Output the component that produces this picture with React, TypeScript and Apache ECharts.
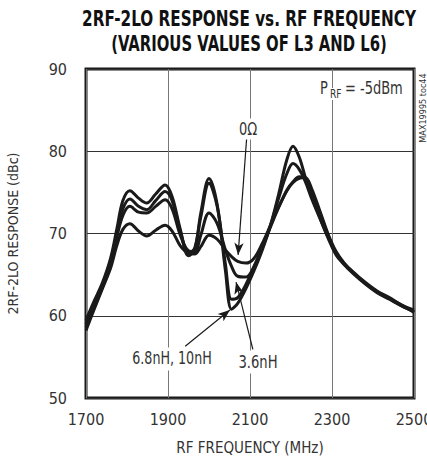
import React, { useEffect, useRef } from "react";
import * as echarts from "echarts";

const freqs = [1700, 1720, 1740, 1760, 1775, 1790, 1807, 1828, 1848, 1870, 1893, 1910, 1930, 1950, 1965, 1980, 2000, 2020, 2040, 2055, 2070, 2090, 2110, 2130, 2150, 2170, 2190, 2205, 2220, 2235, 2250, 2270, 2290, 2310, 2330, 2350, 2380, 2410, 2440, 2470, 2500];

// 0 ohm
const resp0 = [58.2, 60.8, 63.3, 65.8, 68.5, 70.5, 71.2, 70.3, 69.7, 70.4, 71.0, 70.3, 68.5, 67.6, 67.5, 68.4, 69.8, 69.3, 68.0, 67.2, 66.6, 66.4, 67.0, 68.8, 71.0, 73.2, 75.2, 76.2, 76.7, 76.8, 75.5, 72.8, 70.0, 67.8, 66.4, 65.4, 64.1, 63.0, 62.2, 61.3, 60.7];
// 3.6nH
const resp36 = [58.6, 61.0, 63.5, 66.3, 69.5, 72.2, 73.3, 72.6, 72.5, 73.3, 74.1, 73.0, 69.8, 67.9, 67.8, 69.8, 72.5, 71.2, 68.0, 66.0, 64.8, 64.7, 66.0, 68.3, 70.8, 73.2, 75.3, 76.3, 76.9, 76.7, 75.2, 72.6, 69.8, 67.6, 66.3, 65.3, 64.0, 62.9, 62.1, 61.2, 60.5];
// 6.8nH
const resp68 = [59.0, 61.5, 63.8, 66.7, 70.0, 73.0, 74.2, 73.3, 72.9, 74.0, 75.1, 74.0, 70.3, 67.6, 68.2, 72.0, 76.1, 73.3, 66.3, 62.0, 62.2, 63.8, 66.0, 68.3, 71.0, 74.3, 77.3, 78.5, 77.8, 76.3, 74.3, 71.9, 69.5, 67.4, 66.2, 65.2, 63.9, 62.8, 62.0, 61.2, 60.5];
// 10nH
const resp10 = [59.5, 61.8, 64.0, 67.0, 70.5, 74.0, 75.2, 74.3, 73.7, 74.8, 75.9, 74.5, 70.5, 67.3, 68.0, 72.5, 76.7, 73.5, 65.5, 60.8, 61.5, 63.3, 65.5, 68.0, 71.0, 74.8, 79.0, 80.6, 79.3, 76.8, 74.5, 72.0, 69.6, 67.5, 66.3, 65.3, 64.0, 62.9, 62.1, 61.3, 60.4];

const seriesNames = ["0Ω", "3.6nH", "6.8nH", "10nH"];
const seriesValues = [resp0, resp36, resp68, resp10];

const xTicks = [1700, 1900, 2100, 2300, 2500];
const yTicks = [50, 60, 70, 80, 90];

// annotation arrows in data coordinates: [fromX, fromY, toX, toY]
const arrows = [
  [2092, 81.7, 2071, 67.4],
  [2107, 55.9, 2066, 64.1],
  [1942, 56.3, 2051, 60.7],
];

const FONT = "'DejaVu Sans Condensed', 'Liberation Sans', Arial, sans-serif";
const INK = "#1a1a1a";
const TXT = "#333";

export default function App() {
  const ref = useRef<HTMLDivElement>(null);
  useEffect(() => {
    if (!ref.current) return;
    const chart = echarts.init(ref.current, undefined, { renderer: "svg" });
    const series: any[] = seriesNames.map((name, i) => ({
      name,
      type: "line",
      smooth: 0.35,
      showSymbol: false,
      data: freqs.map((f, j) => [f, seriesValues[i][j]]),
      lineStyle: { color: INK, width: 3 },
      z: 5,
    }));
    series[0].markLine = {
      silent: true,
      symbol: ["none", "arrow"],
      symbolSize: [7, 12],
      label: { show: false },
      lineStyle: { color: INK, width: 1.2, type: "solid" },
      data: arrows.map((a) => [{ coord: [a[0], a[1]] }, { coord: [a[2], a[3]] }]),
    };
    const ann = { fontFamily: FONT, fill: TXT, align: "center", verticalAlign: "middle", backgroundColor: "#fff", fontSize: 17 };
    chart.setOption({
      animation: false,
      backgroundColor: "#fff",
      grid: {
        left: 86,
        right: 13,
        top: 69,
        bottom: 58,
        outerBoundsMode: "none",
        containLabel: false,
        show: true,
        borderColor: INK,
        borderWidth: 3,
        backgroundColor: "transparent",
      },
      xAxis: {
        type: "value",
        min: 1700,
        max: 2500,
        interval: 200,
        name: "RF FREQUENCY (MHz)",
        nameLocation: "middle",
        nameGap: 42,
        nameTextStyle: { fontFamily: FONT, fontSize: 15, color: TXT },
        axisLine: { show: false },
        axisTick: { show: false },
        axisLabel: {
          margin: 13,
          fontFamily: FONT,
          fontSize: 16,
          color: TXT,
          formatter: (v: number) => (xTicks.includes(v) ? String(v) : ""),
        },
        splitLine: { show: true, lineStyle: { color: "#777", width: 1 } },
      },
      yAxis: {
        type: "value",
        min: 50,
        max: 90,
        interval: 10,
        name: "2RF-2LO RESPONSE (dBc)",
        nameLocation: "middle",
        nameGap: 66,
        nameTextStyle: { fontFamily: FONT, fontSize: 14, color: TXT },
        axisLine: { show: false },
        axisTick: { show: false },
        axisLabel: {
          margin: 19,
          fontFamily: FONT,
          fontSize: 16,
          color: TXT,
          formatter: (v: number) => (yTicks.includes(v) ? String(v) : ""),
        },
        splitLine: { show: true, lineStyle: { color: "#333", width: 1 } },
      },
      graphic: [
        {
          type: "text",
          x: 249,
          y: 19,
          scaleX: 0.77,
          z: 100,
          style: {
            text: "2RF-2LO RESPONSE vs. RF FREQUENCY",
            fontFamily: FONT,
            fontWeight: "bold",
            fontSize: 22,
            fill: "#111",
            align: "center",
            verticalAlign: "middle",
          },
        },
        {
          type: "text",
          x: 249,
          y: 44,
          scaleX: 0.75,
          z: 100,
          style: {
            text: "(VARIOUS VALUES OF L3 AND L6)",
            fontFamily: FONT,
            fontWeight: "bold",
            fontSize: 22,
            fill: "#111",
            align: "center",
            verticalAlign: "middle",
          },
        },
        {
          type: "text",
          x: 320,
          y: 88,
          scaleX: 0.85,
          z: 100,
          style: { text: "P", fontFamily: FONT, fontSize: 17, fill: TXT, verticalAlign: "middle", backgroundColor: "#fff" },
        },
        {
          type: "text",
          x: 330,
          y: 94,
          scaleX: 0.85,
          z: 100,
          style: { text: "RF", fontFamily: FONT, fontSize: 12, fill: TXT, verticalAlign: "middle", backgroundColor: "#fff" },
        },
        {
          type: "text",
          x: 345,
          y: 88,
          scaleX: 0.85,
          z: 100,
          style: { text: "= -5dBm", fontFamily: FONT, fontSize: 17, fill: TXT, verticalAlign: "middle", backgroundColor: "#fff" },
        },
        {
          type: "text",
          x: 423,
          y: 108,
          rotation: Math.PI / 2,
          z: 100,
          style: { text: "MAX19995 toc44", fontFamily: FONT, fontSize: 9, fill: TXT, align: "center", verticalAlign: "middle" },
        },
        {
          type: "text",
          x: 248,
          y: 129,
          scaleX: 0.85,
          z: 100,
          style: { ...ann, text: "0Ω", padding: [2, 2] },
        },
        {
          type: "text",
          x: 172,
          y: 359,
          scaleX: 0.83,
          z: 100,
          style: { ...ann, text: "6.8nH, 10nH", padding: [3, 2] },
        },
        {
          type: "text",
          x: 258,
          y: 362,
          scaleX: 0.86,
          z: 100,
          style: { ...ann, text: "3.6nH", padding: [3, 2] },
        },
      ],
      series,
    });
    return () => chart.dispose();
  }, []);
  return <div ref={ref} style={{ width: 427, height: 456, position: "absolute", left: 0, top: 0 }} />;
}
